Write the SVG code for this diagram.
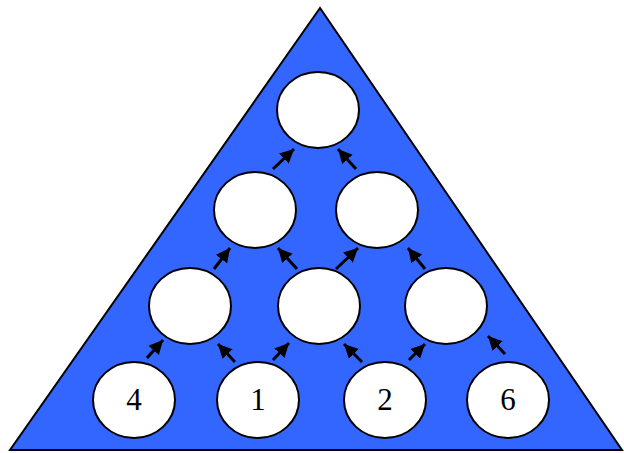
<svg xmlns="http://www.w3.org/2000/svg" width="624" height="453" viewBox="0 0 624 453">
<style>
.bg{fill:#3366FF;stroke:#000;stroke-width:2}
.n ellipse{fill:#fff;stroke:#000;stroke-width:2}
.n text{font-family:"Liberation Serif","Times New Roman",serif;font-size:31px;fill:#000;text-anchor:middle}
.c line{stroke:#000;stroke-width:3;marker-end:url(#ah)}
</style>
<defs>
<marker id="ah" markerUnits="userSpaceOnUse" markerWidth="15" markerHeight="15" refX="14" refY="7" orient="auto">
<path d="M0,0 L14,7 L0,14 Z" fill="#000"/>
</marker>
</defs>
<polygon class="bg" points="320,8 10,450 622,450"/>
<g class="c">
<line x1="147" y1="358" x2="163" y2="340"/>
<line x1="235" y1="362" x2="218" y2="344"/>
<line x1="273" y1="360" x2="289" y2="343"/>
<line x1="362" y1="362" x2="344" y2="344"/>
<line x1="409" y1="360" x2="425" y2="344"/>
<line x1="505" y1="354" x2="488" y2="336"/>
<line x1="214" y1="269" x2="230" y2="248"/>
<line x1="297" y1="269" x2="278" y2="248"/>
<line x1="336" y1="269" x2="358" y2="248"/>
<line x1="425" y1="269" x2="408" y2="248"/>
<line x1="273" y1="169" x2="294" y2="149"/>
<line x1="356" y1="169" x2="338" y2="149"/>
</g>
<g id="n-top" class="n"><ellipse cx="318" cy="110" rx="41" ry="38"/></g>
<g id="n-r2a" class="n"><ellipse cx="255" cy="210" rx="41" ry="38"/></g>
<g id="n-r2b" class="n"><ellipse cx="377" cy="210" rx="41" ry="38"/></g>
<g id="n-r3a" class="n"><ellipse cx="190" cy="306" rx="41" ry="38"/></g>
<g id="n-r3b" class="n"><ellipse cx="319" cy="306" rx="41" ry="38"/></g>
<g id="n-r3c" class="n"><ellipse cx="446" cy="306" rx="41" ry="38"/></g>
<g id="n-4" class="n"><ellipse cx="134" cy="400" rx="41" ry="38"/><text x="134" y="410">4</text></g>
<g id="n-1" class="n"><ellipse cx="258" cy="400" rx="41" ry="38"/><text x="258" y="410">1</text></g>
<g id="n-2" class="n"><ellipse cx="385" cy="400" rx="41" ry="38"/><text x="385" y="410">2</text></g>
<g id="n-6" class="n"><ellipse cx="508" cy="400" rx="41" ry="38"/><text x="508" y="410">6</text></g>
</svg>
